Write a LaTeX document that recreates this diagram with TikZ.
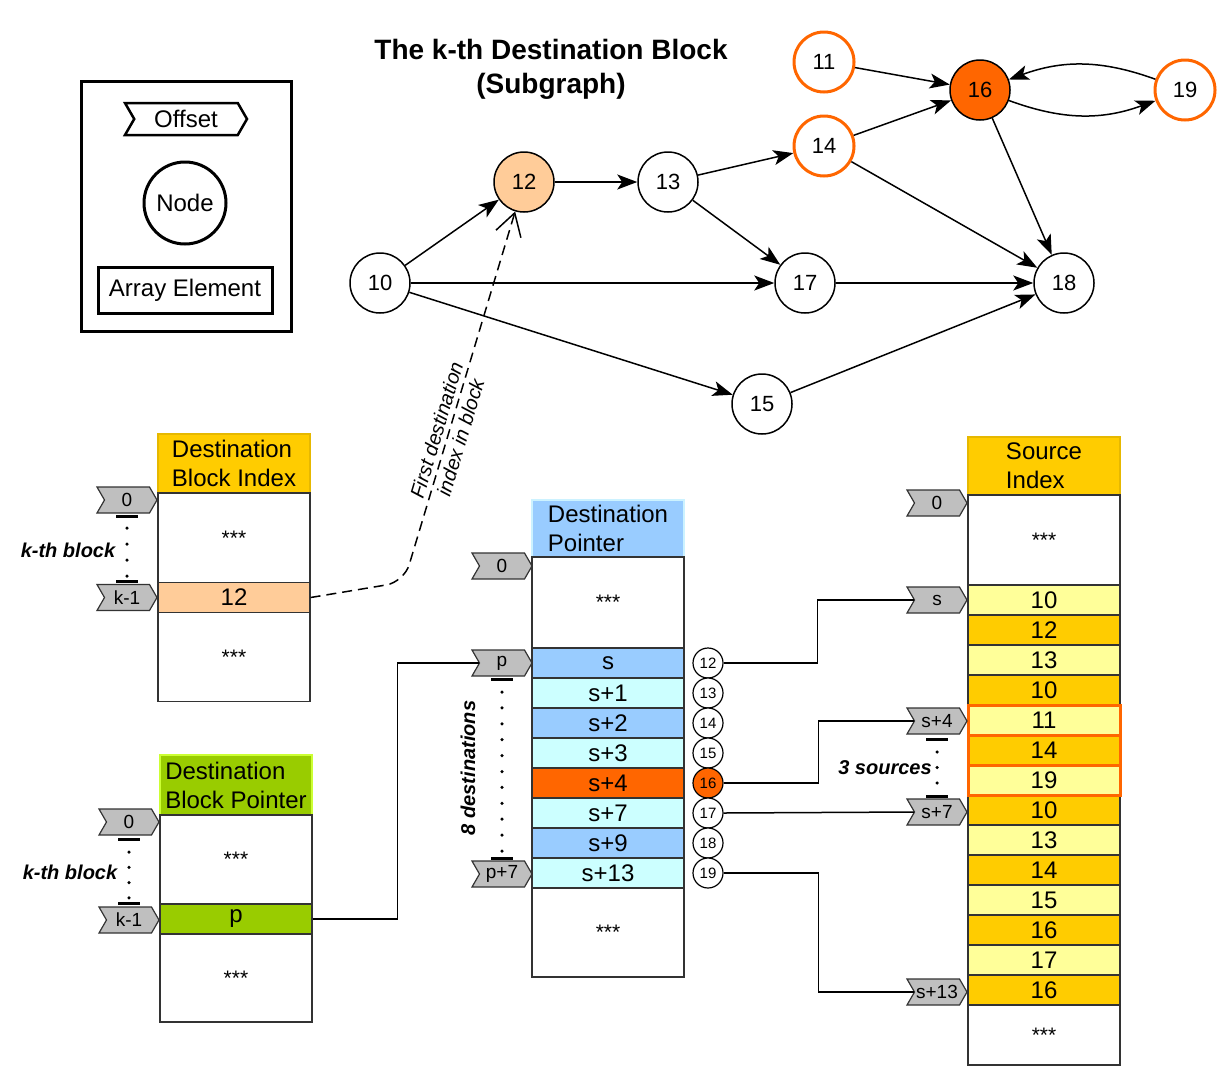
\documentclass[tikz,border=0pt]{standalone}
\usepackage{fontspec}
\setmainfont{Liberation Sans}
\usetikzlibrary{arrows.meta}
\usetikzlibrary{shapes}

\definecolor{gold}{HTML}{FFCC00}
\definecolor{goldline}{HTML}{E6B800}
\definecolor{paleyellow}{HTML}{FFFF99}
\definecolor{peach}{HTML}{FFCC99}
\definecolor{leaf}{HTML}{99CC00}
\definecolor{leafline}{HTML}{CCFF33}
\definecolor{sky}{HTML}{99CCFF}
\definecolor{skyline}{HTML}{CCF2FF}
\definecolor{ice}{HTML}{CCFFFF}
\definecolor{hot}{HTML}{FF6600}

\begin{document}
\begin{tikzpicture}[x=1pt, y=-1pt]
	\useasboundingbox (0,0) rectangle (1230,1082);
	\tikzstyle{vertexStyle}=[shape = circle, minimum size = 60pt, inner sep = 0pt, draw, line width = 1.5pt, fill = white, font = \fontsize{22}{24}\selectfont]
	\tikzstyle{hotRing}=[vertexStyle, draw = hot, line width = 3pt]
	\tikzstyle{edgeStyle}=[line width = 1.5pt, -{Stealth[length = 20pt, width = 15pt, inset = 5pt]}]
	\tikzstyle{cellStyle}=[shape = rectangle, draw = black!80, line width = 1.2pt, minimum width = 152pt, minimum height = 30pt, inner sep = 0pt, font = \fontsize{24}{26}\selectfont]
	\tikzstyle{gapStyle}=[cellStyle, fill = white, font = \fontsize{21}{22}\selectfont]
	\tikzstyle{headStyle}=[shape = rectangle, line width = 1.5pt, minimum width = 152pt, inner sep = 0pt, align = left, font = \fontsize{24}{29}\selectfont]
	\tikzstyle{offsetStyle}=[shape = signal, signal from = west, signal to = east, signal pointer angle = 120, draw = black!80, fill = gray!50, line width = 1.2pt, minimum width = 60pt, minimum height = 26pt, inner sep = 0pt, font = \fontsize{19}{20}\selectfont]
	\tikzstyle{tinyStyle}=[shape = circle, minimum size = 30pt, inner sep = 0pt, draw, line width = 1.2pt, fill = white, font = \fontsize{15}{16}\selectfont]
	\tikzstyle{linkStyle}=[line width = 1.5pt]
	\tikzstyle{spanBar}=[line width = 3pt]
	\tikzstyle{spanDots}=[line width = 3.5pt, line cap = round, dash pattern = on 0pt off 16pt]
	\tikzstyle{spanLabel}=[font = \fontsize{20}{22}\selectfont\bfseries\itshape]

	% legend
	\node[shape = rectangle, draw, line width = 3pt, minimum width = 210pt, minimum height = 250pt] (legend) at (186,206) {};
	\node[offsetStyle, fill = white, draw = black, line width = 2.5pt, minimum width = 122pt, minimum height = 32pt, font = \fontsize{24}{26}\selectfont] (lgOffset) at (186,119) {Offset};
	\node[vertexStyle, line width = 3pt, minimum size = 82pt, font = \fontsize{24}{26}\selectfont] (lgNode) at (185,203) {Node};
	\node[shape = rectangle, draw, line width = 3pt, minimum width = 174pt, minimum height = 46pt, font = \fontsize{24}{26}\selectfont] (lgElem) at (185,290) {Array Element};

	% subgraph
	\node[align = center, font = \fontsize{28}{34}\selectfont\bfseries] (title) at (551,69) {The k-th Destination Block\\(Subgraph)};
	\node[vertexStyle] (v10) at (380,283) {10};
	\node[vertexStyle, fill = peach] (v12) at (524,182) {12};
	\node[vertexStyle] (v13) at (668,182) {13};
	\node[hotRing] (v11) at (824,62) {11};
	\node[hotRing] (v14) at (824,146) {14};
	\node[vertexStyle, fill = hot] (v16) at (980,90) {16};
	\node[hotRing] (v19) at (1185,90) {19};
	\node[vertexStyle] (v17) at (805,283) {17};
	\node[vertexStyle] (v18) at (1064,283) {18};
	\node[vertexStyle] (v15) at (762,404) {15};

	\draw[edgeStyle] (v10) -- (v12);
	\draw[edgeStyle] (v10) -- (v17);
	\draw[edgeStyle] (v10) -- (v15);
	\draw[edgeStyle] (v12) -- (v13);
	\draw[edgeStyle] (v13) -- (v14);
	\draw[edgeStyle] (v13) -- (v17);
	\draw[edgeStyle] (v11) -- (v16);
	\draw[edgeStyle] (v14) -- (v16);
	\draw[edgeStyle] (v14) -- (v18);
	\draw[edgeStyle] (v16) -- (v18);
	\draw[edgeStyle] (v16) to[bend right = 20] (v19);
	\draw[edgeStyle] (v19) to[bend right = 20] (v16);
	\draw[edgeStyle] (v17) -- (v18);
	\draw[edgeStyle] (v15) -- (v18);

	% destination block index
	\node[headStyle, fill = gold, draw = goldline, minimum height = 59pt] (dbiHead) at (234,463.5) {Destination\\Block Index};
	\node[gapStyle, minimum height = 90pt] (dbiTop) at (234,538) {***};
	\node[cellStyle, fill = peach] (dbi12) at (234,597.5) {12};
	\node[gapStyle, minimum height = 89pt] (dbiBot) at (234,657) {***};
	\node[offsetStyle] (dbiO0) at (127,500) {0};
	\node[offsetStyle] (dbiOk) at (127,597.5) {k-1};
	\draw[spanBar] (116,516) -- (138,516);
	\draw[spanDots] (127,528) -- (127,577);
	\draw[spanBar] (116,581) -- (138,581);
	\node[spanLabel] (dbiSpan) at (68,550) {k-th block};

	% destination block pointer
	\node[headStyle, fill = leaf, draw = leafline, minimum height = 60pt] (dbpHead) at (236,785) {Destination\\Block Pointer};
	\node[gapStyle, minimum height = 89pt] (dbpTop) at (236,859.5) {***};
	\node[cellStyle, fill = leaf] (dbpP) at (236,919) {p};
	\node[gapStyle, minimum height = 88pt] (dbpBot) at (236,978) {***};
	\node[offsetStyle] (dbpO0) at (129,822) {0};
	\node[offsetStyle] (dbpOk) at (129,920) {k-1};
	\draw[spanBar] (118,839) -- (140,839);
	\draw[spanDots, dash pattern = on 0pt off 15.3pt] (129,852) -- (129,898);
	\draw[spanBar] (118,903) -- (140,903);
	\node[spanLabel] (dbpSpan) at (70,872) {k-th block};

	% destination pointer
	\node[headStyle, fill = sky, draw = skyline, minimum height = 57pt] (dpHead) at (608,528.5) {Destination\\Pointer};
	\node[gapStyle, minimum height = 91pt] (dpTop) at (608,602.5) {***};
	\node[cellStyle, fill = sky] (dpS0) at (608,663) {s};
	\node[cellStyle, fill = ice] (dpS1) at (608,693) {s+1};
	\node[cellStyle, fill = sky] (dpS2) at (608,723) {s+2};
	\node[cellStyle, fill = ice] (dpS3) at (608,753) {s+3};
	\node[cellStyle, fill = hot] (dpS4) at (608,783) {s+4};
	\node[cellStyle, fill = ice] (dpS7) at (608,813) {s+7};
	\node[cellStyle, fill = sky] (dpS9) at (608,843) {s+9};
	\node[cellStyle, fill = ice] (dpS13) at (608,873) {s+13};
	\node[gapStyle, minimum height = 89pt] (dpBot) at (608,932.5) {***};
	\node[offsetStyle] (dpO0) at (502,566) {0};
	\node[offsetStyle] (dpOp) at (502,663) {p};
	\node[offsetStyle] (dpO7) at (502,874) {p+7};
	\draw[spanBar] (491,679) -- (513,679);
	\draw[spanDots, dash pattern = on 0pt off 15.9pt] (502,692) -- (502,852);
	\draw[spanBar] (491,858) -- (513,858);
	\node[spanLabel, rotate = 90] (dpSpan) at (468,768) {8 destinations};
	\node[tinyStyle] (c12) at (708,663) {12};
	\node[tinyStyle] (c13) at (708,693) {13};
	\node[tinyStyle] (c14) at (708,723) {14};
	\node[tinyStyle] (c15) at (708,753) {15};
	\node[tinyStyle, fill = hot] (c16) at (708,783) {16};
	\node[tinyStyle] (c17) at (708,813) {17};
	\node[tinyStyle] (c18) at (708,843) {18};
	\node[tinyStyle] (c19) at (708,873) {19};

	% source index
	\node[headStyle, fill = gold, draw = goldline, minimum height = 58pt] (siHead) at (1044,466) {Source\\Index};
	\node[gapStyle, minimum height = 90pt] (siTop) at (1044,540) {***};
	\node[cellStyle, fill = paleyellow] (si1) at (1044,600) {10};
	\node[cellStyle, fill = gold] (si2) at (1044,630) {12};
	\node[cellStyle, fill = paleyellow] (si3) at (1044,660) {13};
	\node[cellStyle, fill = gold] (si4) at (1044,690) {10};
	\node[cellStyle, fill = gold] (si8) at (1044,810) {10};
	\node[cellStyle, fill = paleyellow] (si9) at (1044,840) {13};
	\node[cellStyle, fill = gold] (si10) at (1044,870) {14};
	\node[cellStyle, fill = paleyellow] (si11) at (1044,900) {15};
	\node[cellStyle, fill = gold] (si12) at (1044,930) {16};
	\node[cellStyle, fill = paleyellow] (si13) at (1044,960) {17};
	\node[cellStyle, fill = gold] (si14) at (1044,990) {16};
	\node[gapStyle, minimum height = 60pt] (siBot) at (1044,1035) {***};
	\node[cellStyle, fill = paleyellow, draw = hot, line width = 3pt] (si5) at (1044,720) {11};
	\node[cellStyle, fill = gold, draw = hot, line width = 3pt] (si6) at (1044,750) {14};
	\node[cellStyle, fill = paleyellow, draw = hot, line width = 3pt] (si7) at (1044,780) {19};
	\node[offsetStyle] (siO0) at (937,503) {0};
	\node[offsetStyle] (siOs) at (937,600) {s};
	\node[offsetStyle] (siO4) at (937,721) {s+4};
	\node[offsetStyle] (siO7) at (937,812) {s+7};
	\node[offsetStyle] (siO13) at (937,992) {s+13};
	\draw[spanBar] (926,739) -- (948,739);
	\draw[spanDots, dash pattern = on 0pt off 15.5pt] (937,752) -- (937,784);
	\draw[spanBar] (926,796) -- (948,796);
	\node[spanLabel] (siSpan) at (885,768) {3 sources};

	% links between the arrays
	\draw[linkStyle] (dbpP.east) -- ++(85,0) |- (dpOp.west);
	\draw[linkStyle] (c12.east) -- ++(94,0) |- (siOs.west);
	\draw[linkStyle] (c16.east) -- ++(95,0) |- (siO4.west);
	\draw[linkStyle] (c17.east) -- (siO7.west);
	\draw[linkStyle] (c19.east) -- ++(95,0) |- (siO13.west);
	\draw[linkStyle, dashed, dash pattern = on 10pt off 6pt, rounded corners = 18pt, -{Straight Barb[length = 22pt, width = 26pt]}] (dbi12.east) -- (404,582) -- node[pos = 0.4, sloped, align = center, font = \fontsize{20}{25}\selectfont\itshape] {First destination\\index in block} (v12);
\end{tikzpicture}
\end{document}
